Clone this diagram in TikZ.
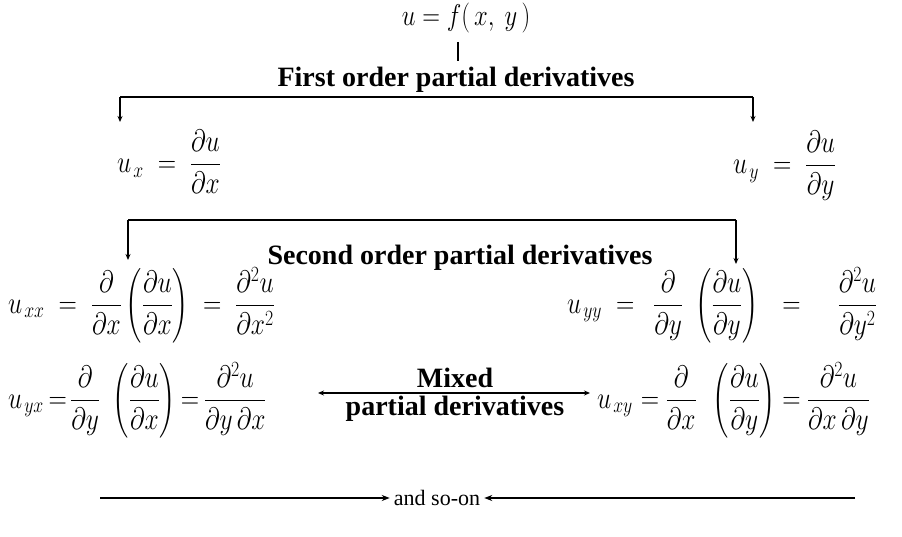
\RequirePackage{fix-cm}
\documentclass[tikz,border=0pt]{standalone}
\usepackage{amsmath}
\usepackage{fontspec}
\setmainfont{Liberation Serif}
\usetikzlibrary{arrows.meta}
\newcommand{\gp}[1]{\hspace{#1pt}}
\newcommand{\sqz}[1]{\scalebox{0.82}[1]{$#1$}}
\begin{document}
\begin{tikzpicture}[x=1pt,y=-1pt,
  mth/.style={inner sep=0pt,font=\fontsize{31}{36}\selectfont},
  tmth/.style={inner sep=0pt,font=\fontsize{30}{34}\selectfont},
  hdr/.style={inner sep=0pt,font=\fontsize{28}{32}\selectfont\bfseries},
  lbl/.style={inner sep=0pt,font=\fontsize{22}{26}\selectfont},
  con/.style={line width=1.2pt},
  arr/.style={line width=1.2pt,-{Stealth[length=6pt,width=5pt]}},
  thick arr/.style={line width=2pt,-{Stealth[length=8pt,width=6pt]}}]
\useasboundingbox (0,0) rectangle (902,537);
% top
\node[tmth] (top) at (466,18) {\sqz{u = f(\,x,\ y\,)}};
\node[hdr] (first) at (456,80) {First order partial derivatives};
\draw[con] (458,42) -- ([yshift=6pt]first.north -| 458,0);
% first order bracket
\coordinate (b1l) at (120,97);
\coordinate (b1r) at (753,97);
\node[mth,anchor=west] (ux) at (117,162) {\sqz{u_{\mkern2mu x} \;=\; \dfrac{\partial u}{\partial x}}};
\node[mth,anchor=west] (uy) at (733,166) {\sqz{u_{\mkern2mu y} \;=\; \dfrac{\partial u}{\partial y}}};
\draw[con] (b1l) -- (b1r);
\draw[arr] (b1l) -- (120,122);
\draw[arr] (b1r) -- (753,122);
% second order bracket
\coordinate (b2l) at (128,220);
\coordinate (b2r) at (736,220);
\node[hdr] (second) at (460,258) {Second order partial derivatives};
\draw[con] (b2l) -- (b2r);
\draw[arr] (b2l) -- (128,260);
\draw[arr] (b2r) -- (736,264);
% second order rows
\node[mth,anchor=west] (uxx) at (8,305) {\sqz{u_{\mkern2mu xx} \;=\; \dfrac{\partial}{\partial x}\,\biggl(\dfrac{\partial u}{\partial x}\biggr) \;=\; \dfrac{\partial^2 u}{\partial x^2}}};
\node[mth,anchor=west] (uyy) at (567,305) {\sqz{u_{\mkern2mu yy} \;=\;\gp{6} \dfrac{\partial}{\partial y}\,\gp{10}\biggl(\dfrac{\partial u}{\partial y}\biggr)\gp{12} \;=\;\gp{28} \dfrac{\partial^2 u}{\partial y^2}}};
\node[mth,anchor=west] (uyx) at (8,400) {\sqz{u_{\mkern2mu yx}\gp{6}{=}\gp{4} \dfrac{\partial}{\partial y}\gp{16}\biggl(\dfrac{\partial u}{\partial x}\biggr)\gp{6}{=}\gp{6}\dfrac{\partial^2 u}{\partial y\,\partial x}}};
\node[mth,anchor=west] (uxy) at (597,400) {\sqz{u_{\mkern2mu xy}\gp{10}{=}\gp{8} \dfrac{\partial}{\partial x}\gp{20}\biggl(\dfrac{\partial u}{\partial y}\biggr)\gp{8}{=}\gp{8}\dfrac{\partial^2 u}{\partial x\,\partial y}}};
\node[hdr] (mixed) at (455,378) {Mixed};
\node[hdr] (pd) at (455,409) {partial derivatives};
\draw[arr,{Stealth[length=6pt,width=5pt]}-{Stealth[length=6pt,width=5pt]}] (318,393) -- (590,393);
% and so-on
\node[lbl] (soon) at (437,498) {and so-on};
\coordinate (sl) at (100,498);
\coordinate (sr) at (855,498);
\draw[thick arr] (sl) -- ([xshift=-4pt]soon.west);
\draw[thick arr] (sr) -- ([xshift=4pt]soon.east);
\end{tikzpicture}
\end{document}
